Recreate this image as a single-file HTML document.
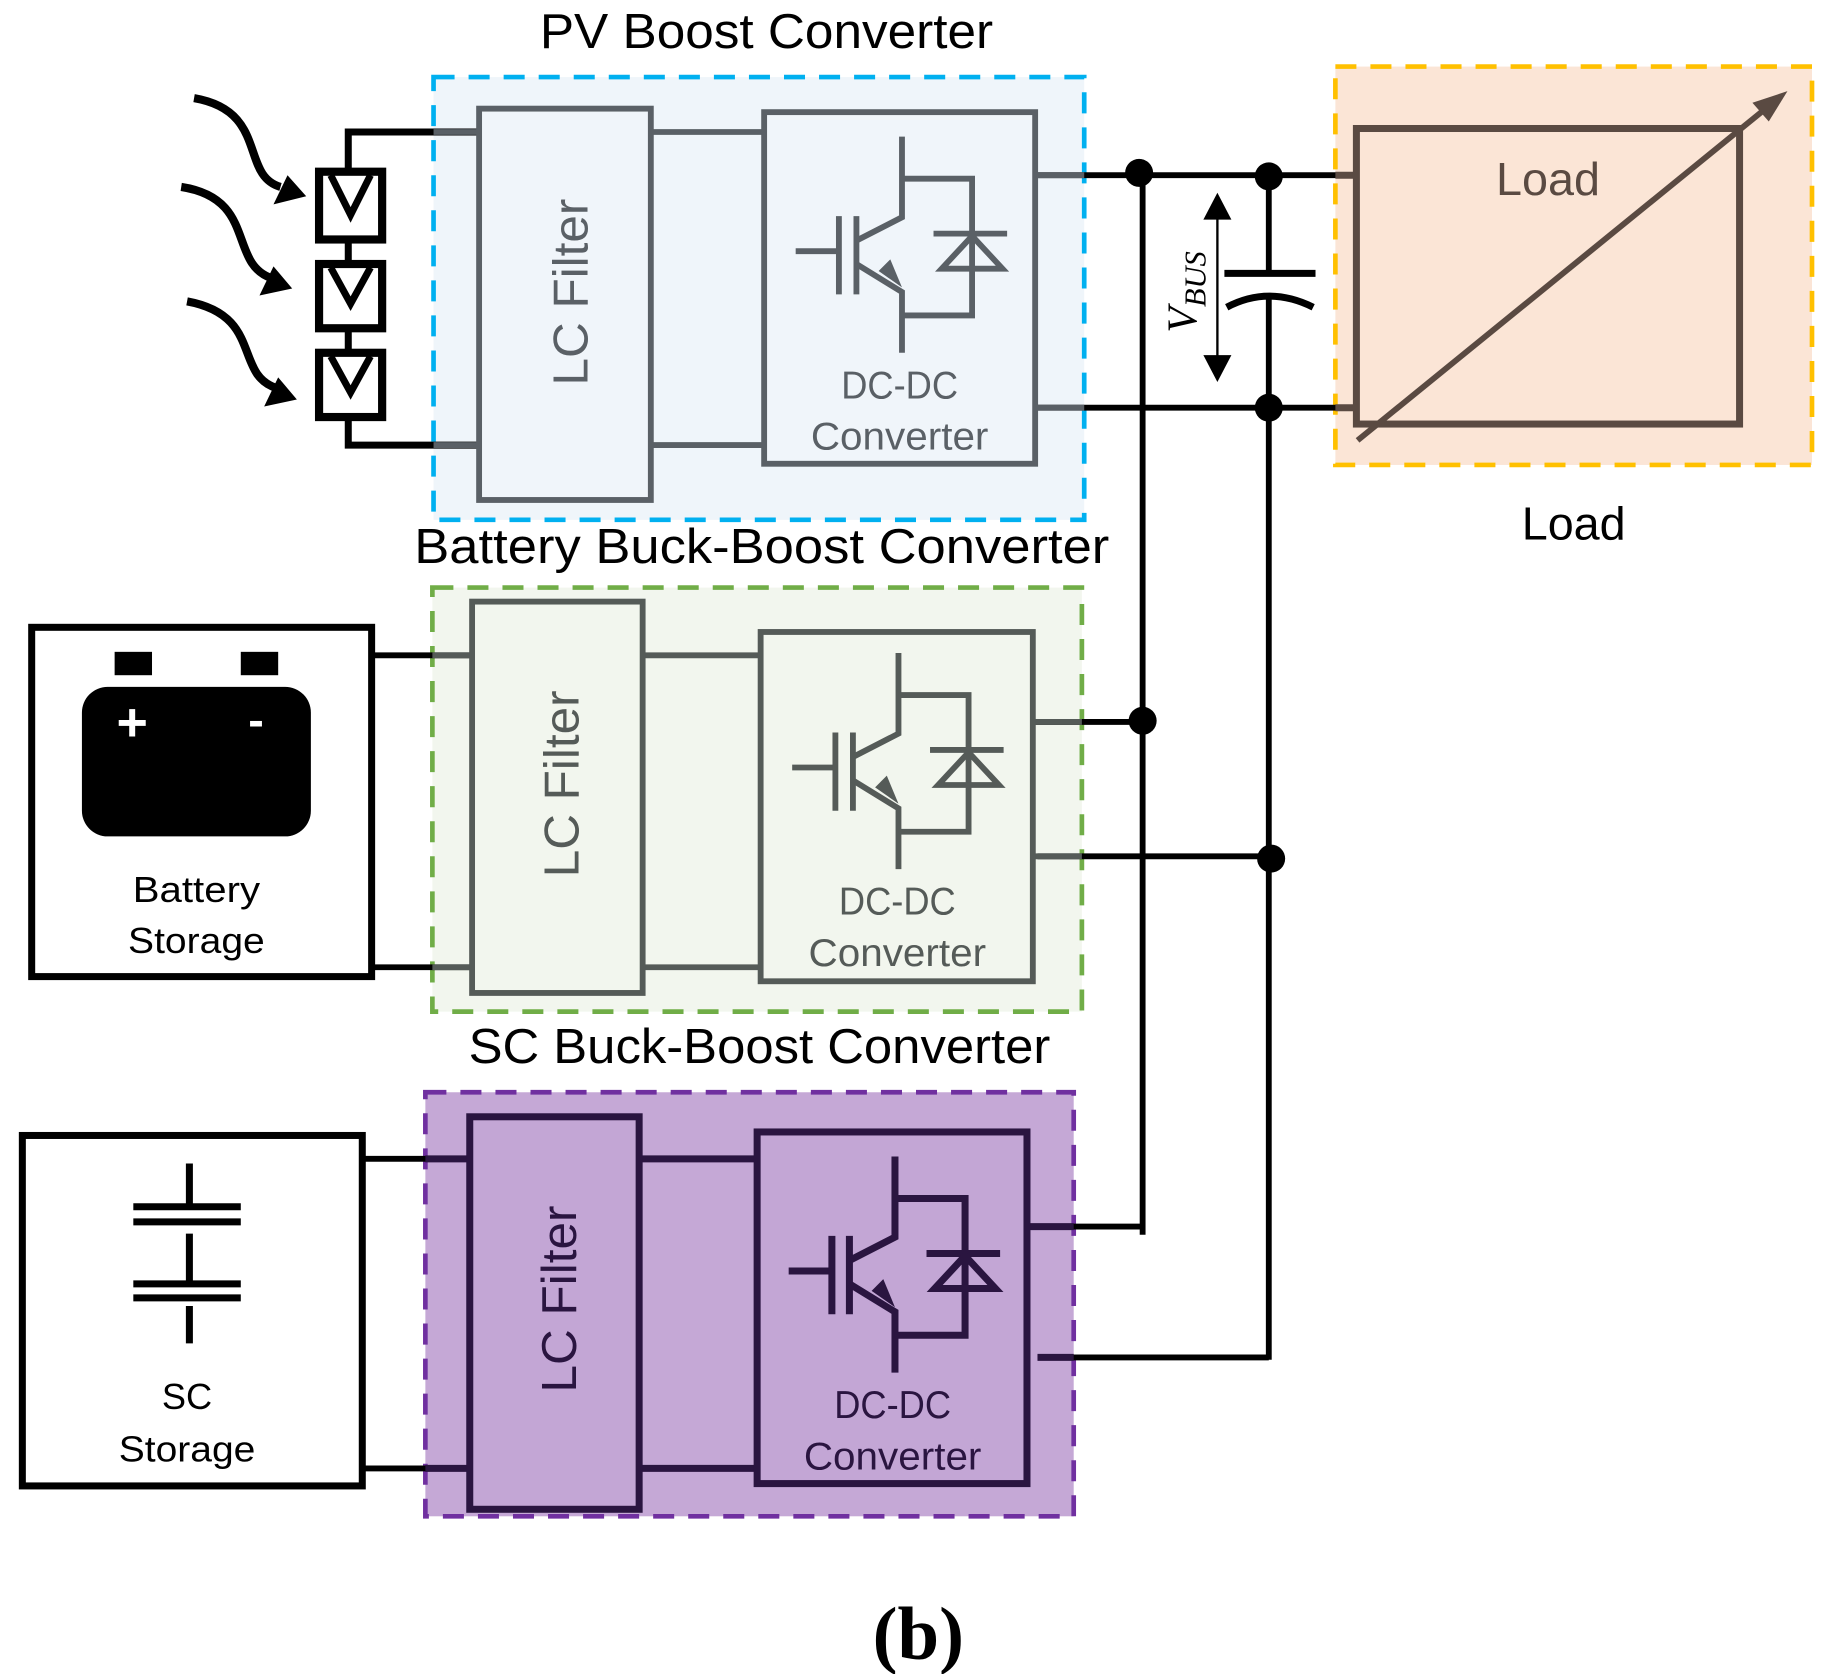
<!DOCTYPE html>
<html><head><meta charset="utf-8"><style>html,body{margin:0;padding:0;background:#fff}svg{display:block}</style></head>
<body>
<svg width="1832" height="1674" viewBox="0 0 1568 1433" xmlns="http://www.w3.org/2000/svg" font-family="Liberation Sans, DejaVu Sans, sans-serif">
<defs>
<g id="sw">
 <line x1="681" y1="215" x2="718" y2="215"/>
 <line x1="718" y1="185" x2="718" y2="252"/>
 <line x1="733" y1="185" x2="733" y2="252"/>
 <polyline points="733,206 772,186 772,117" fill="none"/>
 <polyline points="733,226 772,250 772,302" fill="none"/>
 <polyline points="772,153 832,153 832,270 772,270" fill="none"/>
 <line x1="799" y1="200" x2="862" y2="200"/>
 <polygon points="832,202 806,230 858,230" fill="none"/>
</g>
</defs>
<style>
.t{text-anchor:middle}
</style>
<!-- Titles -->
<text x="656" y="41" font-size="42" class="t" fill="#000" textLength="388" lengthAdjust="spacingAndGlyphs">PV Boost Converter</text>
<text x="652" y="482" font-size="42" class="t" fill="#000" textLength="595" lengthAdjust="spacingAndGlyphs">Battery Buck-Boost Converter</text>
<text x="650" y="910" font-size="42" class="t" fill="#000" textLength="498" lengthAdjust="spacingAndGlyphs">SC Buck-Boost Converter</text>
<text x="786" y="1420" font-size="64" font-weight="bold" class="t" font-family="Liberation Serif, serif">(b)</text>

<!-- Dashed regions -->
<rect x="371" y="66" width="557" height="379" fill="#eff5fa" stroke="#00b0f0" stroke-width="4" stroke-dasharray="18,12"/>
<rect x="370" y="503" width="556" height="363" fill="#f2f6ee" stroke="#70ad47" stroke-width="4" stroke-dasharray="18,12"/>
<rect x="364" y="935" width="555" height="363" fill="#c5a8d6" stroke="#7030a0" stroke-width="4" stroke-dasharray="18,12"/>
<rect x="1143" y="57" width="408" height="341" fill="#fbe5d6" stroke="#ffc000" stroke-width="4" stroke-dasharray="18,12"/>

<!-- wires (black) -->
<g stroke="#000" stroke-width="5" fill="none">
 <polyline points="410,113 298,113 298,381 410,381" stroke-width="6"/>
 <line x1="886" y1="150" x2="1160" y2="150"/>
 <line x1="886" y1="349" x2="1160" y2="349"/>
 <line x1="978" y1="150" x2="978" y2="1057"/>
 <line x1="1086" y1="150" x2="1086" y2="1164"/>
 <line x1="884" y1="618" x2="978" y2="618"/>
 <line x1="888" y1="733" x2="1088" y2="733"/>
 <line x1="879" y1="1050" x2="978" y2="1050"/>
 <polyline points="888,1162 1086,1162"/>
 <line x1="318" y1="561" x2="404" y2="561"/>
 <line x1="318" y1="828" x2="404" y2="828"/>
 <line x1="310" y1="992" x2="402" y2="992"/>
 <line x1="310" y1="1257" x2="402" y2="1257"/>
</g>
<g fill="#000">
 <circle cx="975" cy="148" r="12"/><circle cx="1086" cy="151" r="12"/><circle cx="1086" cy="349" r="12"/>
 <circle cx="978" cy="617" r="12"/><circle cx="1088" cy="735" r="12"/>
</g>
<!-- capacitor -->
<line x1="1086" y1="234" x2="1086" y2="255" stroke="#fff" stroke-width="8"/>
<line x1="1048" y1="234" x2="1126" y2="234" stroke="#000" stroke-width="6"/>
<path d="M1050,263 Q1086,244 1124,263" fill="none" stroke="#000" stroke-width="6"/>
<!-- Vbus -->
<line x1="1042" y1="185" x2="1042" y2="307" stroke="#000" stroke-width="2"/>
<polygon points="1042,165 1030,188 1054,188"/><polygon points="1042,327 1030,304 1054,304"/>
<text transform="translate(1024,250) rotate(-90)" font-size="36" font-style="italic" font-family="Liberation Serif, serif" class="t">V<tspan font-size="26" dy="8">BUS</tspan></text>

<!-- PV block -->
<g stroke="#5a6066" stroke-width="5" fill="none">
 <line x1="557" y1="113" x2="654" y2="113"/><line x1="557" y1="381" x2="654" y2="381"/>
 <line x1="886" y1="150" x2="928" y2="150"/><line x1="886" y1="349" x2="928" y2="349"/>
 <line x1="371" y1="113" x2="410" y2="113"/><line x1="371" y1="381" x2="410" y2="381"/>
 <rect x="410" y="93" width="147" height="335" fill="#f0f5fa"/>
 <rect x="654" y="96" width="232" height="301" fill="#f0f5fa"/>
 <use href="#sw"/>
</g>
<polygon points="772,246 752,232 762,222" fill="#5a6066"/>
<text transform="translate(503,250) rotate(-90)" font-size="42" fill="#5a6066" class="t" textLength="160" lengthAdjust="spacingAndGlyphs">LC Filter</text>
<text x="770" y="341" font-size="33" fill="#5a6066" class="t" textLength="100" lengthAdjust="spacingAndGlyphs">DC-DC</text>
<text x="770" y="385" font-size="33" fill="#5a6066" class="t" textLength="152" lengthAdjust="spacingAndGlyphs">Converter</text>

<!-- Battery block -->
<g stroke="#555b58" stroke-width="5" fill="none">
 <line x1="550" y1="561" x2="651" y2="561"/><line x1="550" y1="828" x2="651" y2="828"/>
 <line x1="884" y1="618" x2="926" y2="618"/><line x1="884" y1="733" x2="926" y2="733"/>
 <line x1="370" y1="561" x2="404" y2="561"/><line x1="370" y1="828" x2="404" y2="828"/>
 <rect x="404" y="515" width="146" height="335" fill="#f2f6ee"/>
 <rect x="651" y="541" width="233" height="299" fill="#f2f6ee"/>
 <use href="#sw" transform="translate(-3,442)"/>
</g>
<polygon points="769,688 749,674 759,664" fill="#555b58"/>
<text transform="translate(495,671) rotate(-90)" font-size="42" fill="#555b58" class="t" textLength="160" lengthAdjust="spacingAndGlyphs">LC Filter</text>
<text x="768" y="783" font-size="33" fill="#555b58" class="t" textLength="100" lengthAdjust="spacingAndGlyphs">DC-DC</text>
<text x="768" y="827" font-size="33" fill="#555b58" class="t" textLength="152" lengthAdjust="spacingAndGlyphs">Converter</text>

<!-- SC block -->
<g stroke="#2a1540" stroke-width="6" fill="none">
 <line x1="547" y1="992" x2="648" y2="992"/><line x1="547" y1="1257" x2="648" y2="1257"/>
 <line x1="879" y1="1050" x2="919" y2="1050"/><line x1="888" y1="1162" x2="919" y2="1162"/>
 <line x1="364" y1="992" x2="402" y2="992"/><line x1="364" y1="1257" x2="402" y2="1257"/>
 <rect x="402" y="956" width="145" height="336" fill="#c3a6d5"/>
 <rect x="648" y="969" width="231" height="301" fill="#c3a6d5"/>
 <use href="#sw" transform="translate(-6,873)"/>
</g>
<polygon points="766,1119 746,1105 756,1095" fill="#2a1540"/>
<text transform="translate(493,1112) rotate(-90)" font-size="42" fill="#2a1540" class="t" textLength="160" lengthAdjust="spacingAndGlyphs">LC Filter</text>
<text x="764" y="1214" font-size="33" fill="#2a1540" class="t" textLength="100" lengthAdjust="spacingAndGlyphs">DC-DC</text>
<text x="764" y="1258" font-size="33" fill="#2a1540" class="t" textLength="152" lengthAdjust="spacingAndGlyphs">Converter</text>

<!-- PV panels -->
<g stroke="#000" stroke-width="7" fill="#fff">
 <rect x="273" y="147" width="54" height="58"/>
 <rect x="273" y="226" width="54" height="55"/>
 <rect x="273" y="302" width="54" height="55"/>
</g>
<g stroke="#000" stroke-width="6" fill="none">
 <polyline points="283,150 300,184 317,150"/>
 <polyline points="283,229 300,260 317,229"/>
 <polyline points="283,305 300,336 317,305"/>
 <path d="M166,84 C230,95 205,150 240,160" stroke-width="7"/>
 <path d="M155,160 C220,170 195,225 232,238" stroke-width="7"/>
 <path d="M160,258 C225,270 200,320 236,332" stroke-width="7"/>
</g>
<polygon points="262,168 234,175 246,150"/>
<polygon points="250,247 222,253 234,228"/>
<polygon points="254,342 226,348 238,323"/>

<!-- Load -->
<g stroke="#5a4a42" stroke-width="6" fill="none">
 <line x1="1143" y1="150" x2="1161" y2="150"/><line x1="1143" y1="349" x2="1161" y2="349"/>
 <rect x="1161" y="110" width="328" height="253"/>
 <line x1="1162" y1="377" x2="1515" y2="90" stroke-width="5"/>
</g>
<polygon points="1530,78 1500,88 1514,104" fill="#5a4a42"/>
<text x="1325" y="167" font-size="40" fill="#5a4a42" class="t">Load</text>
<text x="1347" y="462" font-size="40" fill="#000" class="t">Load</text>

<!-- Battery storage -->
<rect x="27" y="537" width="291" height="299" fill="#fff" stroke="#000" stroke-width="6"/>
<rect x="70" y="588" width="196" height="128" rx="22" fill="#000"/>
<rect x="98" y="558" width="32" height="20" fill="#000"/>
<rect x="206" y="558" width="32" height="20" fill="#000"/>
<text x="113" y="634" font-size="46" font-weight="bold" fill="#fff" class="t">+</text>
<text x="219" y="630" font-size="40" font-weight="bold" fill="#fff" class="t">-</text>
<text x="168" y="772" font-size="31" class="t" textLength="109" lengthAdjust="spacingAndGlyphs">Battery</text>
<text x="168" y="816" font-size="31" class="t" textLength="117" lengthAdjust="spacingAndGlyphs">Storage</text>

<!-- SC storage -->
<rect x="19" y="972" width="291" height="300" fill="#fff" stroke="#000" stroke-width="6"/>
<g stroke="#000" stroke-width="6">
 <line x1="162" y1="996" x2="162" y2="1032"/>
 <line x1="114" y1="1033" x2="206" y2="1033"/><line x1="114" y1="1046" x2="206" y2="1046"/>
 <line x1="162" y1="1056" x2="162" y2="1098"/>
 <line x1="114" y1="1099" x2="206" y2="1099"/><line x1="114" y1="1111" x2="206" y2="1111"/>
 <line x1="162" y1="1118" x2="162" y2="1150"/>
</g>
<text x="160" y="1206" font-size="31" class="t">SC</text>
<text x="160" y="1251" font-size="31" class="t" textLength="117" lengthAdjust="spacingAndGlyphs">Storage</text>
</svg>
</body></html>
